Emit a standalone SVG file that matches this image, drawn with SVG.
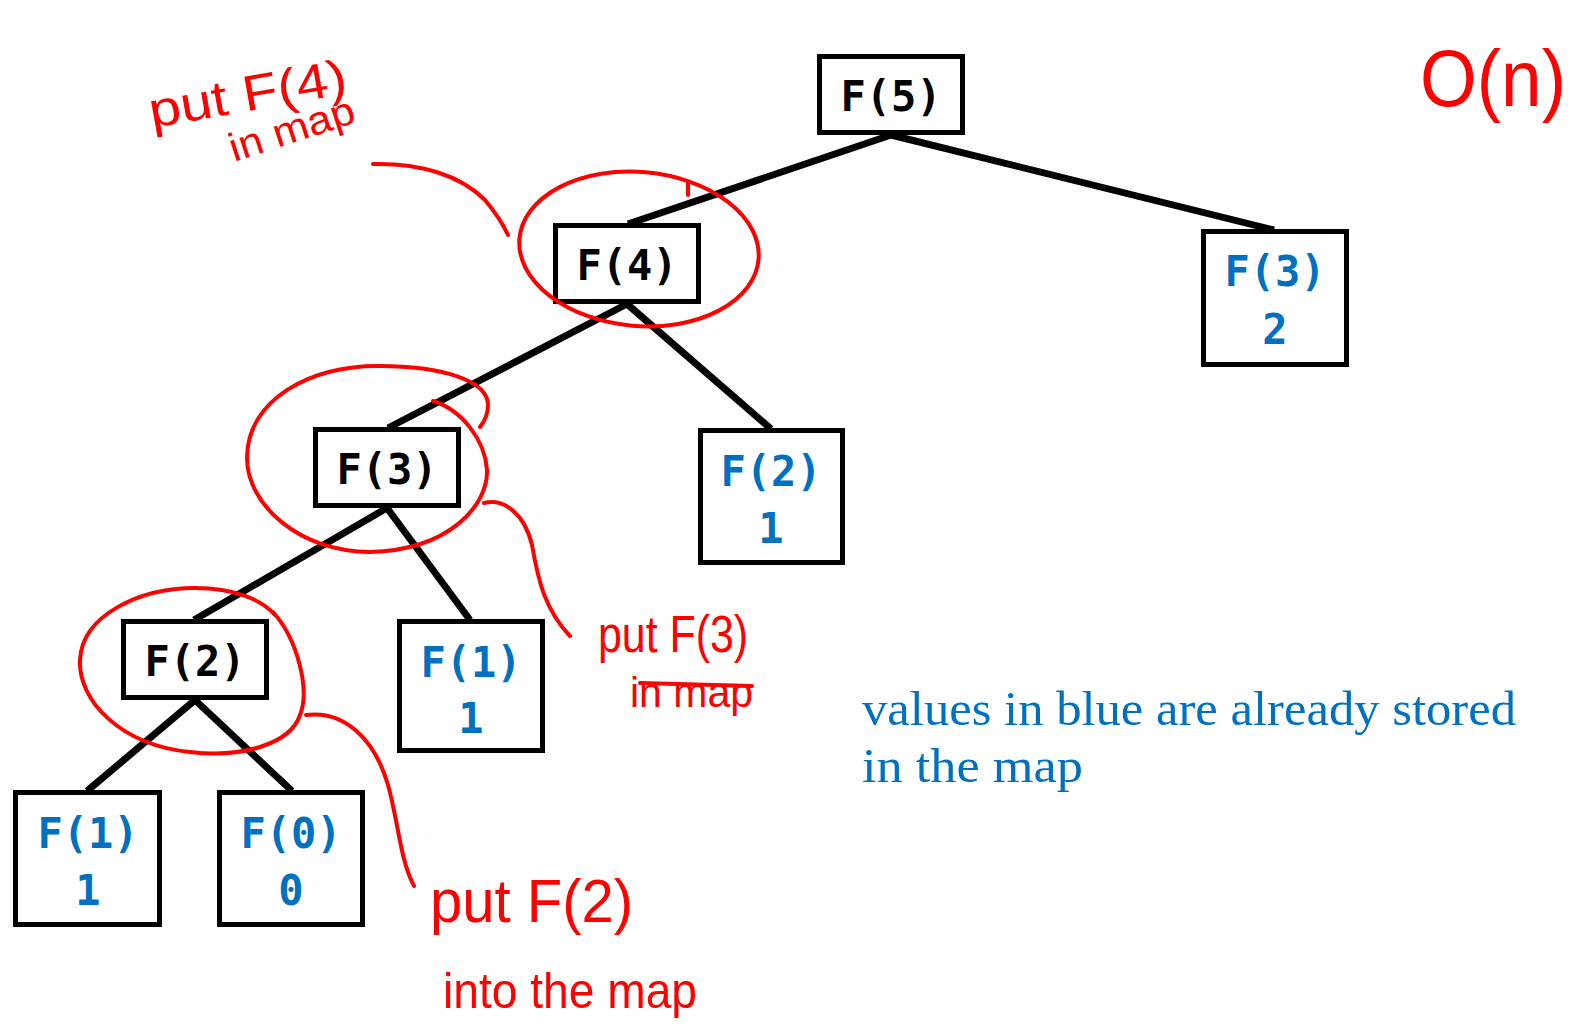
<svg xmlns="http://www.w3.org/2000/svg" width="1588" height="1029" viewBox="0 0 1588 1029">
  <style>
    .box { fill: #ffffff; stroke: #000000; stroke-width: 5; }
    .edge { stroke: #000000; stroke-width: 7; stroke-linecap: butt; }
    .lbl { font-family: "DejaVu Sans Mono", "Liberation Mono", monospace; font-weight: bold; font-size: 42px; text-anchor: middle; }
    .call { fill: #000000; }
    .memo { fill: #0070C0; }
    .note { font-family: "Liberation Serif", "DejaVu Serif", serif; font-size: 49px; fill: #0070C0; }
    .ink { fill: none; stroke: #ff0000; stroke-width: 4; stroke-linecap: round; stroke-linejoin: round; }
    .hand { font-family: "Liberation Sans", "DejaVu Sans", sans-serif; fill: #ff0000; }
  </style>
  <rect width="1588" height="1029" fill="#ffffff"/>

  <!-- recursion tree edges -->
  <g id="connectors">
    <line class="edge" x1="891" y1="135" x2="628" y2="224"/>
    <line class="edge" x1="891" y1="135" x2="1274" y2="230"/>
    <line class="edge" x1="627" y1="304" x2="388" y2="428"/>
    <line class="edge" x1="627" y1="304" x2="771" y2="429"/>
    <line class="edge" x1="387" y1="508" x2="194" y2="620"/>
    <line class="edge" x1="387" y1="508" x2="470" y2="620"/>
    <line class="edge" x1="195" y1="700" x2="87" y2="791"/>
    <line class="edge" x1="195" y1="700" x2="292" y2="791"/>
  </g>

  <!-- calls -->
  <g id="node-f5">
    <rect class="box" x="819.5" y="56.5" width="143" height="76"/>
    <text class="lbl call" x="891" y="111">F(5)</text>
  </g>
  <g id="node-f4">
    <rect class="box" x="555.5" y="225.5" width="143" height="76"/>
    <text class="lbl call" x="627" y="280">F(4)</text>
  </g>
  <g id="node-f3-memo">
    <rect class="box" x="1203.5" y="231.5" width="143" height="133"/>
    <text class="lbl memo" x="1275" y="286">F(3)</text>
    <text class="lbl memo" x="1275" y="344">2</text>
  </g>
  <g id="node-f3">
    <rect class="box" x="315.5" y="429.5" width="143" height="76"/>
    <text class="lbl call" x="387" y="484">F(3)</text>
  </g>
  <g id="node-f2-memo">
    <rect class="box" x="700.5" y="430.5" width="142" height="132"/>
    <text class="lbl memo" x="771" y="486">F(2)</text>
    <text class="lbl memo" x="771" y="543">1</text>
  </g>
  <g id="node-f2">
    <rect class="box" x="123.5" y="621.5" width="143" height="76"/>
    <text class="lbl call" x="195" y="676">F(2)</text>
  </g>
  <g id="node-f1-memo">
    <rect class="box" x="399.5" y="621.5" width="143" height="129"/>
    <text class="lbl memo" x="471" y="677">F(1)</text>
    <text class="lbl memo" x="471" y="733">1</text>
  </g>
  <g id="node-f1-leaf">
    <rect class="box" x="15.5" y="792.5" width="144" height="132"/>
    <text class="lbl memo" x="88" y="848">F(1)</text>
    <text class="lbl memo" x="88" y="905">1</text>
  </g>
  <g id="node-f0-leaf">
    <rect class="box" x="219.5" y="792.5" width="143" height="132"/>
    <text class="lbl memo" x="291" y="848">F(0)</text>
    <text class="lbl memo" x="291" y="905">0</text>
  </g>

  <!-- legend -->
  <g id="legend">
    <text class="note" x="862" y="725" textLength="654" lengthAdjust="spacingAndGlyphs">values in blue are already stored</text>
    <text class="note" x="862" y="782" textLength="221" lengthAdjust="spacingAndGlyphs">in the map</text>
  </g>

  <!-- red pen annotations -->
  <g id="annotations">
    <!-- loop around F(4) and its leader -->
    <ellipse class="ink" cx="639" cy="249" rx="120" ry="77" transform="rotate(5 639 249)"/>
    <path class="ink" d="M688,183 L688,195"/>
    <path class="ink" d="M373,164 C420,163 460,175 485,200 C495,212 503,224 508,235"/>
    <text class="hand" font-size="50" x="152" y="128" textLength="200" lengthAdjust="spacingAndGlyphs" transform="rotate(-10 152 128)">put F(4)</text>
    <text class="hand" font-size="40" x="234" y="162" textLength="130" lengthAdjust="spacingAndGlyphs" transform="rotate(-18 234 162)">in map</text>

    <!-- loop around F(3) and its leader -->
    <path class="ink" d="M433,401 C462,410 485,440 487,470 C488,505 450,550 370,552 C300,552 247,505 247,458 C247,400 310,365 380,366 C440,366 488,380 488,405 C488,415 484,422 480,427"/>
    <path class="ink" d="M484,503 C505,498 525,515 532,545 C538,580 545,610 570,636"/>
    <text class="hand" font-size="52" x="598" y="652" textLength="150" lengthAdjust="spacingAndGlyphs">put F(3)</text>
    <text class="hand" font-size="42" x="630" y="707" textLength="123" lengthAdjust="spacingAndGlyphs">in map</text>
    <path class="ink" d="M640,683 L752,686" stroke-width="2"/>

    <!-- loop around F(2) and its leader -->
    <path class="ink" d="M273,612 C298,640 310,690 300,715 C290,745 240,758 190,752 C120,745 78,700 80,660 C82,615 140,588 195,588 C235,588 262,600 275,615"/>
    <path class="ink" d="M306,715 C345,710 375,740 388,785 C398,820 400,860 414,886"/>
    <text class="hand" font-size="62" x="430" y="922" textLength="203" lengthAdjust="spacingAndGlyphs">put F(2)</text>
    <text class="hand" font-size="50" x="443" y="1008" textLength="254" lengthAdjust="spacingAndGlyphs">into the map</text>

    <!-- complexity -->
    <text class="hand" font-size="80" x="1420" y="106" textLength="146" lengthAdjust="spacingAndGlyphs">O(n)</text>
  </g>
</svg>
